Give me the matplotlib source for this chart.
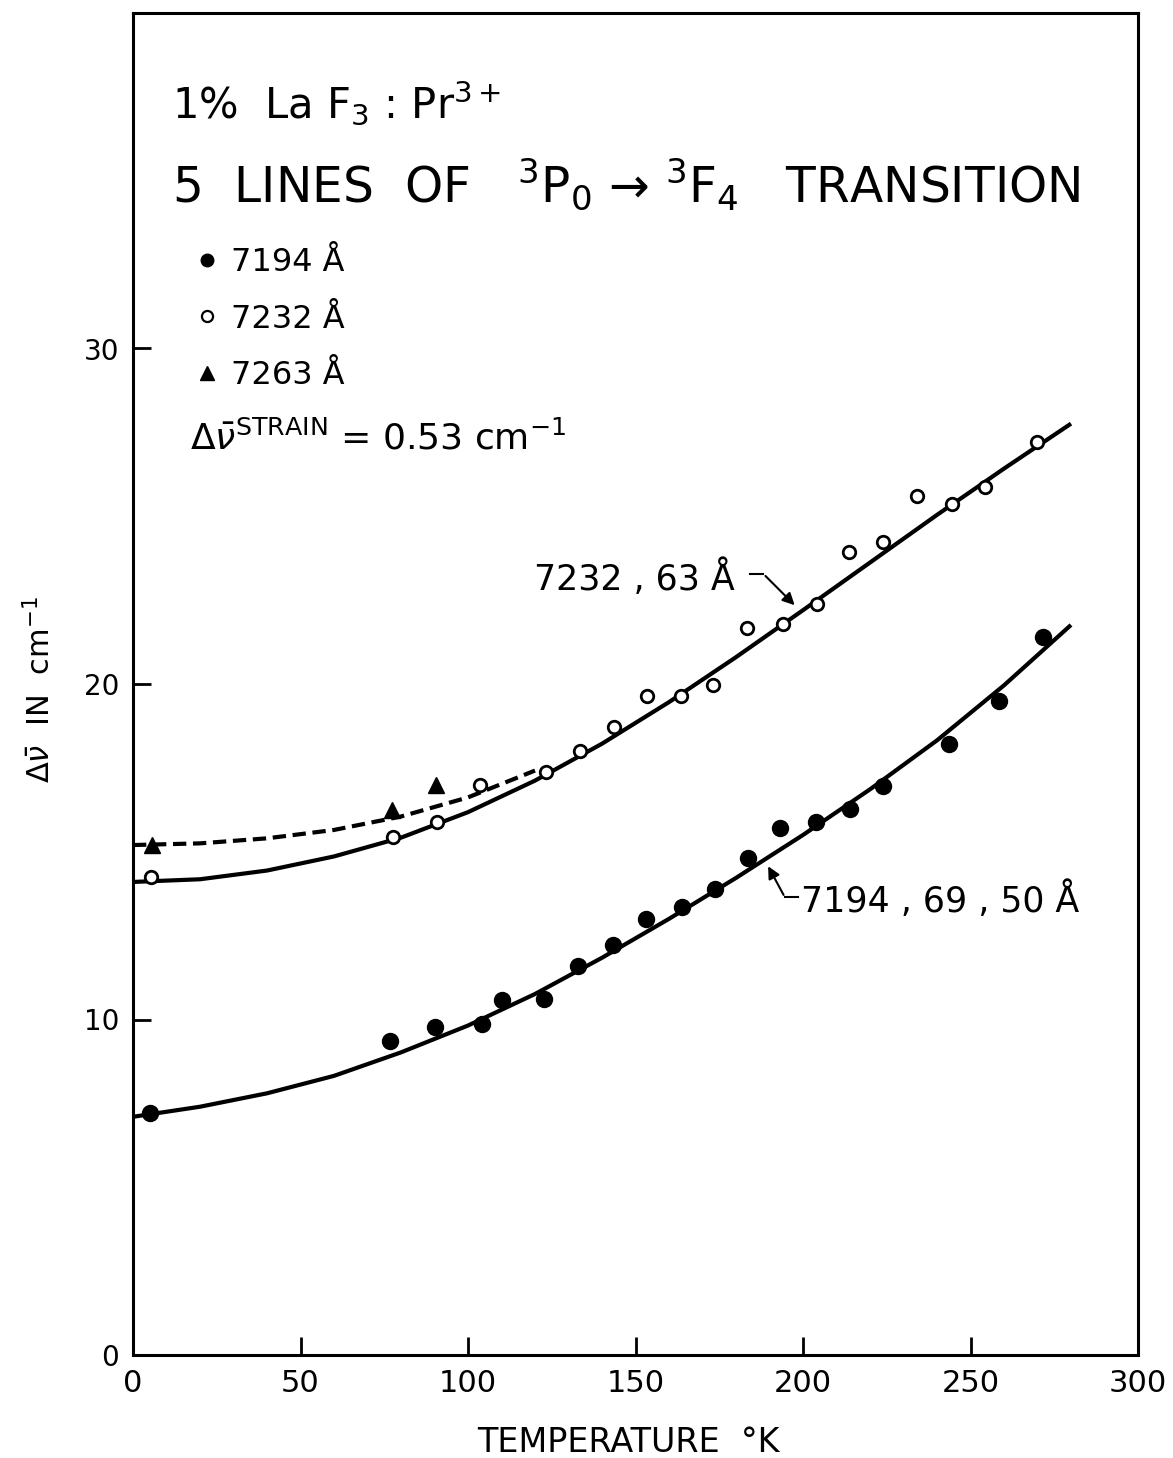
import matplotlib.pyplot as plt
from matplotlib.lines import Line2D

plt.rcParams['font.family'] = ['DejaVu Sans']
plt.rcParams['mathtext.fontset'] = 'dejavusans'

# 7194 A  (filled circles)
t_7194 = [5.1, 76.7, 90.1, 104.2, 110.1, 122.7, 132.8, 143.3, 153.1, 163.9,
          173.7, 183.6, 193.1, 203.9, 214.0, 223.9, 243.6, 258.5, 271.6]
d_7194 = [7.2, 9.35, 9.77, 9.86, 10.57, 10.6, 11.59, 12.21, 12.99, 13.35,
          13.88, 14.8, 15.7, 15.9, 16.26, 16.95, 18.2, 19.5, 21.4]

# 7232 A  (open circles)
t_7232 = [5.4, 77.6, 90.7, 103.6, 123.3, 133.4, 143.6, 153.4, 163.6, 173.1,
          183.3, 194.0, 204.2, 213.7, 223.9, 234.0, 244.5, 254.3, 269.9]
d_7232 = [14.24, 15.43, 15.88, 16.98, 17.37, 17.99, 18.71, 19.63, 19.63, 19.96,
          21.66, 21.8, 22.37, 23.92, 24.22, 25.59, 25.38, 25.86, 27.2]

# 7263 A  (triangles)
t_7263 = [5.7, 77.3, 90.4]
d_7263 = [15.2, 16.23, 16.98]

# hand-drawn fit curves
fit_t = [0, 20, 40, 60, 80, 100, 120, 140, 160, 180, 200, 220, 240, 260, 280]
fit_upper = [14.1, 14.18, 14.44, 14.86, 15.42, 16.18, 17.12, 18.22, 19.46, 20.8,
             22.2, 23.62, 25.04, 26.42, 27.76]
fit_lower = [7.1, 7.4, 7.8, 8.32, 9.02, 9.82, 10.76, 11.84, 13.0, 14.22,
             15.5, 16.86, 18.32, 19.96, 21.76]
dash_t = [0, 20, 40, 60, 80, 100, 120]
dash_d = [15.2, 15.25, 15.4, 15.65, 16.05, 16.62, 17.42]

W, H = 1173, 1458
fig = plt.figure(figsize=(W / 100, H / 100), dpi=100)
ax = fig.add_axes([133 / W, 1 - 1355 / H, (1138 - 133) / W, (1355 - 13) / H])


def ftext(x, y, s, size, **kw):
    # place text using reference pixel coordinates
    fig.text(x / W, 1 - y / H, s, fontsize=size, color='black', **kw)


lw = 3.0
ax.plot(fit_t, fit_upper, color='black', lw=lw, solid_capstyle='butt', zorder=2)
ax.plot(fit_t, fit_lower, color='black', lw=lw, solid_capstyle='butt', zorder=2)
ax.plot(dash_t, dash_d, color='black', lw=lw, dashes=(3.2, 1.6), zorder=2)

ax.plot(t_7194, d_7194, 'o', color='black', ms=11.5, zorder=3)
ax.plot(t_7232, d_7232, 'o', mfc='white', mec='black', mew=2.0, ms=9, zorder=3)
ax.plot(t_7263, d_7263, '^', color='black', ms=11, zorder=3)

ax.set_xlim(0, 300)
ax.set_ylim(0, 40)
ax.set_xticks([0, 50, 100, 150, 200, 250, 300])
ax.set_yticks([0, 10, 20, 30])
ax.tick_params(axis='both', direction='in', length=13, width=2, pad=10)
ax.tick_params(axis='x', labelsize=22)
ax.tick_params(axis='y', labelsize=20)
for sp in ax.spines.values():
    sp.set_linewidth(2.2)

# legend
handles = [
    Line2D([], [], marker='o', ls='none', color='black', ms=9),
    Line2D([], [], marker='o', ls='none', mfc='white', mec='black', mew=1.6, ms=8),
    Line2D([], [], marker='^', ls='none', color='black', ms=10),
]
labels = ['7194 Å', '7232 Å', '7263 Å']
fig.legend(handles, labels, loc='upper left', bbox_to_anchor=(196 / W, 1 - 247 / H),
           frameon=False, fontsize=23, handlelength=0.7, handletextpad=0.4,
           labelspacing=0.8, borderpad=0, borderaxespad=0)

# header text
ftext(172, 118, r'1%  La F$_3$ : Pr$^{3+}$', 30)
ftext(172, 203, r'5  LINES  OF   ${}^{3}$P$_{0}$ → ${}^{3}$F$_{4}$   TRANSITION', 35)
ftext(190, 450, r'$\Delta\bar{\nu}^{\mathrm{STRAIN}}$ = 0.53 cm$^{-1}$', 26)

# curve labels with leader arrows
ax.text(179.7, 23.15, '7232 , 63 Å', fontsize=25, ha='right', va='center')
ax.plot([184.2, 188.2], [23.28, 23.28], color='black', lw=1.5)
ax.annotate('', xy=(198.1, 22.29), xytext=(188.2, 23.28),
            arrowprops=dict(arrowstyle='-|>', color='black', lw=1.5, mutation_scale=18))
ax.text(199.5, 13.55, '7194 , 69 , 50 Å', fontsize=25, ha='left', va='center')
ax.plot([194.6, 198.4], [13.64, 13.64], color='black', lw=1.5)
ax.annotate('', xy=(189.2, 14.64), xytext=(194.6, 13.64),
            arrowprops=dict(arrowstyle='-|>', color='black', lw=1.5, mutation_scale=18))

# axis labels
ftext(628, 1452, 'TEMPERATURE  °K', 24, ha='center')
ftext(40, 690, r'$\Delta\bar{\nu}$  IN  cm$^{-1}$', 22, rotation=90, ha='center', va='center')

fig.savefig('out.png', dpi=100)
